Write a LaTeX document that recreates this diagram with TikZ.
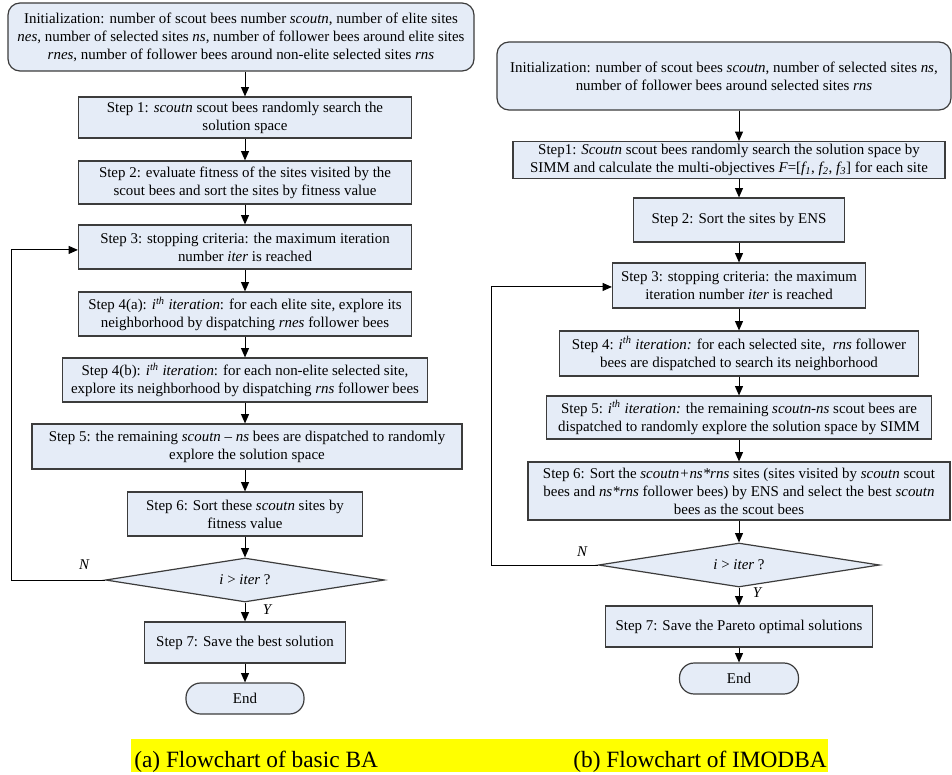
\documentclass[tikz,border=0pt]{standalone}
\usepackage{fontspec}
\setmainfont{Liberation Serif}
\usetikzlibrary{arrows.meta,shapes.geometric}
\definecolor{boxfill}{HTML}{E5ECF7}
\definecolor{boxline}{HTML}{3C3C3C}
\definecolor{capband}{HTML}{FFFF00}
\newcommand{\bodyfont}{\fontsize{11.2}{13.5}\selectfont}
\newcommand{\capfont}{\fontsize{17.5}{20}\selectfont}
\newcommand{\ith}{\textit{i\textsuperscript{th} iteration}}
\begin{document}
\begin{tikzpicture}[x=0.75pt,y=-0.75pt,
  sz/.style 2 args={minimum width=#1*0.75pt, minimum height=#2*0.75pt},
  stepbox/.style={draw=boxline, fill=boxfill, line width=0.9pt, inner sep=0pt, align=center, font=\bodyfont},
  roundbox/.style={stepbox, rounded corners=9pt},
  endbox/.style={stepbox, rounded corners=11pt},
  decision/.style={diamond, aspect=6.3, draw=boxline, fill=boxfill, line width=0.9pt, inner sep=0pt, font=\bodyfont},
  arr/.style={draw=black, line width=0.75pt, -{Triangle[length=7pt,width=6pt]}},
  lbl/.style={font=\bodyfont\itshape, inner sep=0pt}
]
\useasboundingbox (0,0) rectangle (952,774);

% ---------- (a) basic BA ----------
\coordinate (colL) at (245,0);
\coordinate (loopL) at (11,0);
\node[roundbox, sz={466}{68}] (initL) at (241,37)
  {Initialization: number of scout bees number \textit{scoutn}, number of elite sites\\
   \textit{nes}, number of selected sites \textit{ns}, number of follower bees around elite sites\\
   \textit{rnes}, number of follower bees around non-elite selected sites \textit{rns}};
\node[stepbox, sz={333}{41}] (s1L) at (245,117.5)
  {Step 1: \textit{scoutn} scout bees randomly search the\\ solution space};
\node[stepbox, sz={333}{43}] (s2L) at (245,182.5)
  {Step 2: evaluate fitness of the sites visited by the\\ scout bees and sort the sites by fitness value};
\node[stepbox, sz={333}{44}] (s3L) at (245,247)
  {Step 3: stopping criteria: the maximum iteration\\ number \textit{iter} is reached};
\node[stepbox, sz={333}{44}] (s4aL) at (245,314)
  {Step 4(a): \ith: for each elite site, explore its\\ neighborhood by dispatching \textit{rnes} follower bees};
\node[stepbox, sz={365}{44}] (s4bL) at (245,380)
  {Step 4(b): \ith: for each non-elite selected site,\\ explore its neighborhood by dispatching \textit{rns} follower bees};
\node[stepbox, sz={430}{45}] (s5L) at (247,446.5)
  {Step 5: the remaining \textit{scoutn} -- \textit{ns} bees are dispatched to randomly\\ explore the solution space};
\node[stepbox, sz={235}{44}] (s6L) at (245,514)
  {Step 6: Sort these \textit{scoutn} sites by\\ fitness value};
\node[decision, minimum width=279*0.75pt, minimum height=44*0.75pt] (dL) at (245,580)
  {\textit{i} > \textit{iter} ?};
\node[stepbox, sz={201}{41}] (s7L) at (245,642.5) {Step 7: Save the best solution};
\node[endbox, sz={118}{31}] (endL) at (245,698.5) {End};
\node[lbl] (nL) at (84,565) {N};
\node[lbl] (yL) at (267,610) {Y};

\draw[arr] (initL.south -| colL) -- (s1L.north);
\draw[arr] (s1L) -- (s2L);
\draw[arr] (s2L) -- (s3L);
\draw[arr] (s3L) -- (s4aL);
\draw[arr] (s4aL) -- (s4bL);
\draw[arr] (s4bL) -- (s5L.north -| colL);
\draw[arr] (s5L.south -| colL) -- (s6L);
\draw[arr] (s6L) -- (dL);
\draw[arr] (dL) -- (s7L);
\draw[arr] (s7L) -- (endL);
\draw[arr] (dL.west) -- (dL.west -| loopL) |- ([yshift=-2.2pt]s3L.west);

% ---------- (b) IMODBA ----------
\coordinate (colR) at (739,0);
\coordinate (loopR) at (491,0);
\node[roundbox, sz={454}{68}] (initR) at (724,76)
  {Initialization: number of scout bees \textit{scoutn}, number of selected sites \textit{ns},\\
   number of follower bees around selected sites \textit{rns}};
\node[stepbox, sz={432}{37}] (s1R) at (729,160)
  {Step1: \textit{Scoutn} scout bees randomly search the solution space by\\
   SIMM and calculate the multi-objectives \textit{F}=[\textit{f\textsubscript{1}}, \textit{f\textsubscript{2}}, \textit{f\textsubscript{3}}] for each site};
\node[stepbox, sz={211}{44}] (s2R) at (739,220) {Step 2: Sort the sites by ENS};
\node[stepbox, sz={253}{45}] (s3R) at (739,285.5)
  {Step 3: stopping criteria: the maximum\\ iteration number \textit{iter} is reached};
\node[stepbox, sz={359}{45}] (s4R) at (739,353.5)
  {Step 4: \textit{i\textsuperscript{th} iteration:} for each selected site,\ \ \textit{rns} follower\\ bees are dispatched to search its neighborhood};
\node[stepbox, sz={385}{43}] (s5R) at (739,417.5)
  {Step 5: \textit{i\textsuperscript{th} iteration:} the remaining \textit{scoutn-ns} scout bees are\\ dispatched to randomly explore the solution space by SIMM};
\node[stepbox, sz={422}{58}] (s6R) at (739,491)
  {Step 6: Sort the \textit{scoutn+ns*rns} sites (sites visited by \textit{scoutn} scout\\
   bees and \textit{ns*rns} follower bees) by ENS and select the best \textit{scoutn}\\
   bees as the scout bees};
\node[decision, minimum width=281*0.75pt, minimum height=44*0.75pt] (dR) at (739,565)
  {\textit{i} > \textit{iter} ?};
\node[stepbox, sz={267}{41}] (s7R) at (739,626.5) {Step 7: Save the Pareto optimal solutions};
\node[endbox, sz={119}{31}] (endR) at (739,678.5) {End};
\node[lbl] (nR) at (582,552) {N};
\node[lbl] (yR) at (757,593) {Y};

\draw[arr] (initR.south -| colR) -- (s1R.north -| colR);
\draw[arr] (s1R.south -| colR) -- (s2R);
\draw[arr] (s2R) -- (s3R);
\draw[arr] (s3R) -- (s4R);
\draw[arr] (s4R) -- (s5R);
\draw[arr] (s5R) -- (s6R);
\draw[arr] (s6R) -- (dR);
\draw[arr] (dR) -- (s7R);
\draw[arr] (s7R) -- (endR);
\draw[arr] (dR.west) -- (dR.west -| loopR) |- ([yshift=-1.1pt]s3R.west);

% ---------- captions ----------
\fill[capband] (131,739) rectangle (828,772);
\node[anchor=base west, inner sep=0pt, font=\capfont] (capA) at (134,767) {(a) Flowchart of basic BA};
\node[anchor=base east, inner sep=0pt, font=\capfont] (capB) at (827,767) {(b) Flowchart of IMODBA};
\end{tikzpicture}
\end{document}
